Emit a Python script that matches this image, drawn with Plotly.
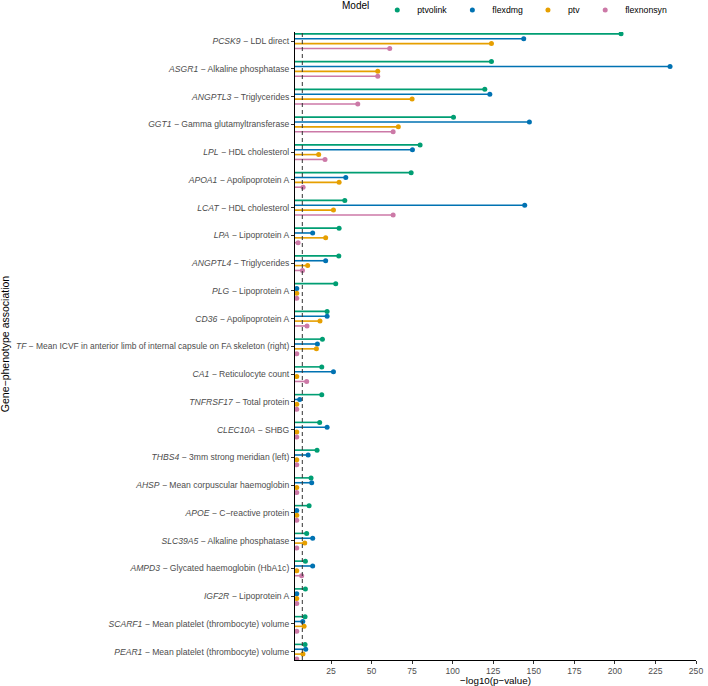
import plotly.graph_objects as go

genes = ["PCSK9", "ASGR1", "ANGPTL3", "GGT1", "LPL", "APOA1", "LCAT", "LPA", "ANGPTL4", "PLG",
         "CD36", "TF", "CA1", "TNFRSF17", "CLEC10A", "THBS4", "AHSP", "APOE", "SLC39A5", "AMPD3",
         "IGF2R", "SCARF1", "PEAR1"]
phenotypes = ["LDL direct", "Alkaline phosphatase", "Triglycerides", "Gamma glutamyltransferase",
              "HDL cholesterol", "Apolipoprotein A", "HDL cholesterol", "Lipoprotein A", "Triglycerides",
              "Lipoprotein A", "Apolipoprotein A",
              "Mean ICVF in anterior limb of internal capsule on FA skeleton (right)",
              "Reticulocyte count", "Total protein", "SHBG", "3mm strong meridian (left)",
              "Mean corpuscular haemoglobin", "C\u2212reactive protein", "Alkaline phosphatase",
              "Glycated haemoglobin (HbA1c)", "Lipoprotein A", "Mean platelet (thrombocyte) volume",
              "Mean platelet (thrombocyte) volume"]

models = ["ptvolink", "flexdmg", "ptv", "flexnonsyn"]
ptvolink = [203.8, 123.9, 119.8, 100.5, 79.9, 74.4, 33.5, 30.0, 29.8, 27.9, 22.6, 19.7, 19.3, 19.3, 18.0,
            16.4, 12.7, 11.5, 10.0, 9.2, 9.2, 9.0, 9.0]
flexdmg = [143.8, 234.0, 122.9, 147.3, 75.2, 34.1, 144.4, 13.7, 21.7, 3.9, 22.6, 16.6, 26.5, 5.7, 22.6,
           10.9, 13.1, 3.9, 13.7, 13.7, 3.9, 7.6, 9.4]
ptv = [123.9, 53.8, 75.0, 66.5, 17.4, 30.0, 26.5, 21.7, 10.6, 3.9, 18.2, 16.0, 3.9, 3.9, 3.9,
       3.9, 3.9, 3.9, 8.8, 3.9, 3.9, 8.4, 7.7]
flexnonsyn = [61.2, 53.8, 41.5, 63.3, 21.3, 7.8, 63.3, 4.7, 7.4, 3.9, 10.2, 3.9, 10.0, 3.9, 3.9,
              3.9, 3.9, 3.9, 3.9, 6.9, 3.9, 3.9, 3.9]
threshold = 7.3
x_ticks = [25, 50, 75, 100, 125, 150, 175, 200, 225, 250]

series = [ptvolink, flexdmg, ptv, flexnonsyn]
colors = ["#009E73", "#0072B2", "#E69F00", "#CC79A7"]
offsets = [0.2625, 0.0875, -0.0875, -0.2625]

n = len(genes)
ypos = [n - i for i in range(n)]
labels = []
for g, p in zip(genes, phenotypes):
    lab = f"<i>{g}</i> \u2212 {p}"
    if len(p) > 45:
        lab = f'<span style="font-size:8.45px">{lab}</span>'
    labels.append(lab)

xmin, xmax = 2.8, 250
ymin, ymax = 0.7, n + 0.33

fig = go.Figure()
for name, vals, col, off in zip(models, series, colors, offsets):
    lx, ly = [], []
    for v, y in zip(vals, ypos):
        lx += [xmin, v, None]
        ly += [y + off, y + off, None]
    fig.add_trace(go.Scatter(x=lx, y=ly, mode="lines", line=dict(color=col, width=1.6),
                             showlegend=False, hoverinfo="skip"))
    fig.add_trace(go.Scatter(x=vals, y=[y + off for y in ypos], mode="markers", name=name,
                             marker=dict(color=col, size=5)))

fig.add_shape(type="line", x0=threshold, x1=threshold, y0=ymin, y1=ymax, xref="x", yref="y",
              line=dict(color="#333333", width=1, dash="4px,3px"))

font = "Liberation Sans, Arial, sans-serif"
fig.update_layout(
    width=708, height=686,
    margin=dict(l=295, r=12, t=32, b=26, autoexpand=False),
    plot_bgcolor="white", paper_bgcolor="white",
    font=dict(family=font, size=8.6, color="#4d4d4d"),
    showlegend=True,
    legend=dict(orientation="h", xref="container", yref="container",
                x=340 / 708, xanchor="left", y=1 - 10 / 686, yanchor="middle",
                title=dict(text="Model", font=dict(size=10, color="black")),
                font=dict(size=8.7, color="black"), itemwidth=30, tracegroupgap=0),
    xaxis=dict(range=[xmin, xmax], tickvals=x_ticks, showgrid=False, zeroline=False, automargin=False,
               showline=True, linecolor="black", linewidth=1, ticks="outside", ticklen=3,
               tickcolor="#333333", tickfont=dict(size=8.6, color="#4d4d4d"),
               title=dict(text="\u2212log10(p\u2212value)", font=dict(size=9.8, color="black"), standoff=2)),
    yaxis=dict(range=[ymin, ymax], tickvals=ypos, ticktext=labels, showgrid=False, zeroline=False,
               automargin=False,
               showline=True, linecolor="black", linewidth=1, ticks="outside", ticklen=3,
               tickcolor="#333333", tickfont=dict(size=8.6, color="#4d4d4d")),
)
fig.add_annotation(text="Gene\u2212phenotype association", xref="paper", yref="paper",
                   x=(5 - 295) / 401, y=(660 - 344) / 628.3, textangle=-90, showarrow=False,
                   font=dict(size=10.5, color="black"), xanchor="center", yanchor="middle")

fig.write_html("out.html", config={"displayModeBar": False},
               post_script="document.body.style.margin='0px';")
